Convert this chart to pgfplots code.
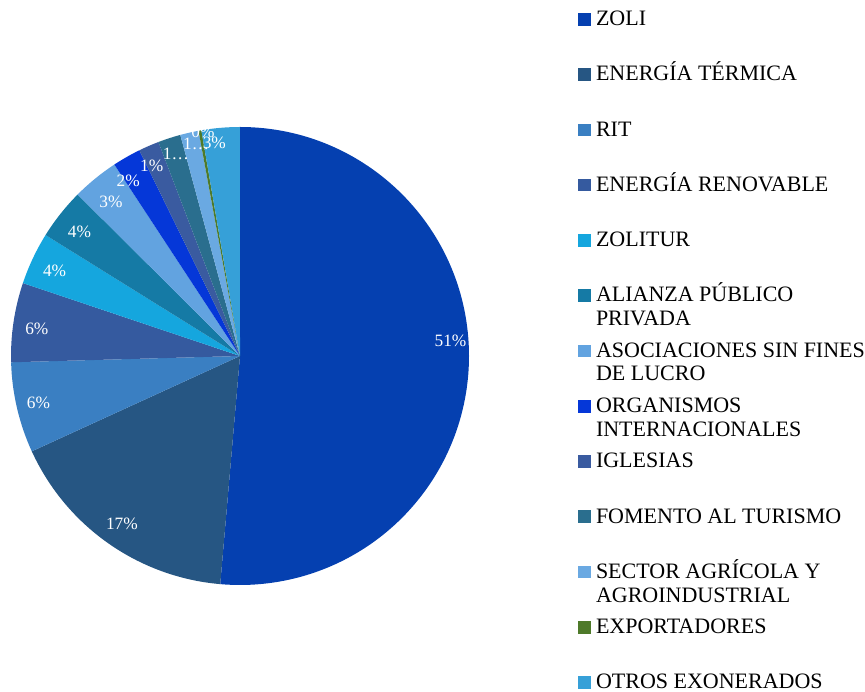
\documentclass[border=0pt]{standalone}
\usepackage{fontspec}
\setmainfont{Liberation Serif}
\usepackage{pgfplots}
\usepackage{pgfplotstable}
\pgfplotsset{compat=1.18}

\definecolor{cZoli}{HTML}{0540B0}
\definecolor{cTerm}{HTML}{265683}
\definecolor{cRit}{HTML}{3A7FC2}
\definecolor{cRen}{HTML}{355A9F}
\definecolor{cZtur}{HTML}{15A6DE}
\definecolor{cApp}{HTML}{157AA5}
\definecolor{cAsoc}{HTML}{62A3E0}
\definecolor{cOrg}{HTML}{0537D8}
\definecolor{cIgl}{HTML}{3A5BA0}
\definecolor{cFom}{HTML}{2A6E8E}
\definecolor{cAgr}{HTML}{6AA9E2}
\definecolor{cExp}{HTML}{4E7A2A}
\definecolor{cOtr}{HTML}{36A0D8}

% share of each category, clockwise from 12 o'clock
\pgfplotstableread{
value  col    lbl    dA    lr
51.4   cZoli  51\%   6.5   211
16.8   cTerm  17\%   0     205
6.4    cRit   6\%    0     207
5.6    cRen   6\%    0.8   205
3.7    cZtur  4\%    0.6   204
3.6    cApp   4\%    0.6   203
3.3    cAsoc  3\%    0.7   201
2.0    cOrg   2\%    2.8   208
1.45   cIgl   1\%    1.4   210
1.6    cFom   1…     -0.4  212
1.3    cAgr   1…     -1.1  217
0.2    cExp   0\%    -0.7  227
2.7    cOtr   3\%    2     215
}\piedata

\newcommand{\legfont}{\fontsize{16.5}{17.8}\selectfont}

\begin{document}
\begin{tikzpicture}
\useasboundingbox (0,0) rectangle (648.75pt,519pt);
\pgfmathsetmacro\total{0}
\pgfplotsforeachungrouped \i in {0,...,12}{%
  \pgfplotstablegetelem{\i}{value}\of\piedata
  \pgfmathsetmacro\total{\total+\pgfplotsretval}}
\begin{axis}[
  width=648.75pt,height=519pt,scale only axis,
  xmin=0,xmax=865,ymin=0,ymax=692,
  hide axis,clip=false,
  legend image code/.code={
    \path[draw=none,fill=none] (0pt,-14.7pt) rectangle (13.5pt,26.75pt);
    \fill[#1,draw=none] (0pt,0pt) rectangle (9.5pt,9.5pt);},
  legend style={draw=none,fill=none,inner sep=0pt,outer sep=0pt,
    row sep=0pt,column sep=0pt,
    at={(0.66821,1.01445)},anchor=north west,
    nodes={inner sep=0pt,outer sep=0pt,font=\legfont},
    cells={anchor=base west}},
]
\pgfmathsetmacro\angA{90}
\pgfplotsforeachungrouped \i in {0,...,12}{%
  \pgfplotstablegetelem{\i}{value}\of\piedata \let\val\pgfplotsretval
  \pgfplotstablegetelem{\i}{col}\of\piedata \let\col\pgfplotsretval
  \pgfmathsetmacro\angB{\angA-360*(\val/\total)}
  \edef\cmd{\noexpand\fill[\col] (axis cs:240,336) -- ++(\angA:171.75pt)
    arc[start angle=\angA,end angle=\angB,radius=171.75pt] -- cycle;}
  \cmd
  \let\angA\angB
}
\pgfmathsetmacro\angA{90}
\pgfplotsforeachungrouped \i in {0,...,12}{%
  \pgfplotstablegetelem{\i}{value}\of\piedata \let\val\pgfplotsretval
  \pgfplotstablegetelem{\i}{lbl}\of\piedata \let\lbl\pgfplotsretval
  \pgfplotstablegetelem{\i}{dA}\of\piedata \let\dA\pgfplotsretval
  \pgfplotstablegetelem{\i}{lr}\of\piedata \let\lr\pgfplotsretval
  \pgfmathsetmacro\angB{\angA-360*(\val/\total)}
  \pgfmathsetmacro\midA{(\angA+\angB)/2+\dA}
  \pgfmathsetmacro\lx{240+\lr*cos(\midA)}
  \pgfmathsetmacro\ly{336+\lr*sin(\midA)}
  \edef\cmd{\noexpand\node[text=white,inner sep=0pt,
    font=\noexpand\fontsize{13}{15}\noexpand\selectfont]
    at (axis cs:\lx,\ly) {\unexpanded\expandafter{\lbl}};}
  \cmd
  \let\angA\angB
}
\addlegendimage{fill=cZoli}\addlegendentry{ZOLI}
\addlegendimage{fill=cTerm}\addlegendentry{ENERGÍA TÉRMICA}
\addlegendimage{fill=cRit}\addlegendentry{RIT}
\addlegendimage{fill=cRen}\addlegendentry{ENERGÍA RENOVABLE}
\addlegendimage{fill=cZtur}\addlegendentry{ZOLITUR}
\addlegendimage{fill=cApp}\addlegendentry{\smash{\vtop{\hbox{ALIANZA PÚBLICO}\hbox{PRIVADA}}}}
\addlegendimage{fill=cAsoc}\addlegendentry{\smash{\vtop{\hbox{ASOCIACIONES SIN FINES}\hbox{DE LUCRO}}}}
\addlegendimage{fill=cOrg}\addlegendentry{\smash{\vtop{\hbox{ORGANISMOS}\hbox{INTERNACIONALES}}}}
\addlegendimage{fill=cIgl}\addlegendentry{IGLESIAS}
\addlegendimage{fill=cFom}\addlegendentry{FOMENTO AL TURISMO}
\addlegendimage{fill=cAgr}\addlegendentry{\smash{\vtop{\hbox{SECTOR AGRÍCOLA Y}\hbox{AGROINDUSTRIAL}}}}
\addlegendimage{fill=cExp}\addlegendentry{EXPORTADORES}
\addlegendimage{fill=cOtr}\addlegendentry{OTROS EXONERADOS}
\end{axis}
\end{tikzpicture}
\end{document}
